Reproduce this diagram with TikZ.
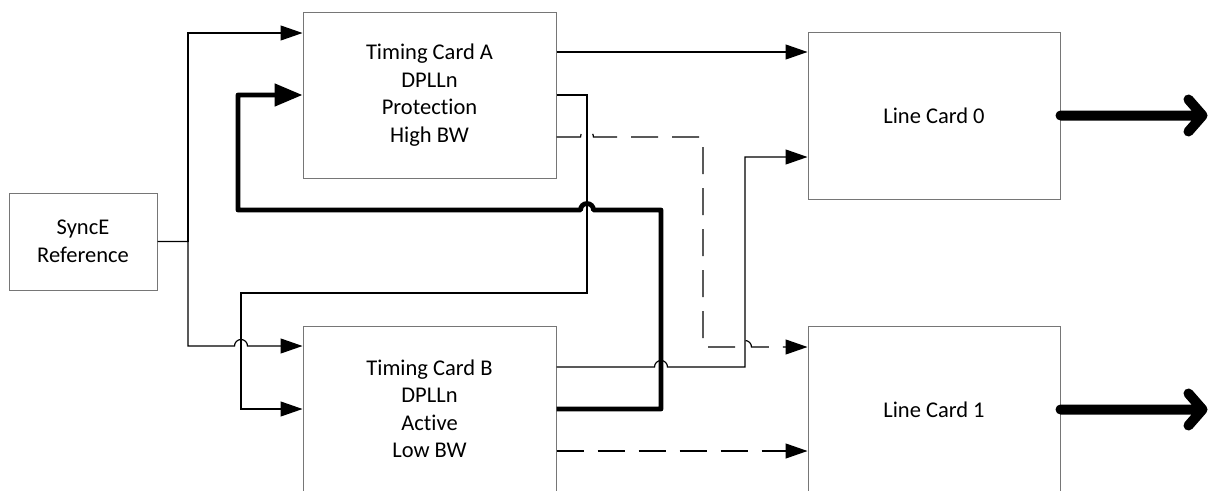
\documentclass[tikz,border=0pt]{standalone}
\usepackage{fontspec}
\setmainfont{Carlito}[Ligatures=NoCommon]
\usetikzlibrary{arrows.meta}
\definecolor{boxgray}{RGB}{118,118,118}
\begin{document}
\begin{tikzpicture}[x=1pt,y=-1pt,
  box/.style={draw=boxgray, line width=1pt, fill=white, rectangle, inner sep=0pt, align=center,
    font=\fontsize{22.5}{27.5}\selectfont},
  conn/.style={line width=1.2pt, draw=black},
  tip/.style={-{Triangle[length=22pt,width=15pt]}},
  thk/.style={line width=4.8pt, draw=black, line join=round, -{Triangle[length=28pt,width=22pt]}},
  dsh/.style={dash pattern=on 27pt off 14pt},
  outarrow/.style={line width=10pt, draw=black, line cap=round, line join=round}]
\useasboundingbox (0,0) rectangle (1209,490);

\node[box, minimum width=148pt, minimum height=97pt] (sync) at (83,241.5) {SyncE\\Reference};
\node[box, minimum width=253pt, minimum height=166pt] (tca) at (429.5,95) {Timing Card A\\DPLLn\\Protection\\High BW};
\node[box, minimum width=253pt, minimum height=166pt] (tcb) at (429.5,409) {Timing Card B\\DPLLn\\Active\\Low BW};
\node[box, minimum width=252pt, minimum height=167pt] (lc0) at (934,115.5) {Line Card 0};
\node[box, minimum width=252pt, minimum height=167pt] (lc1) at (934,409.5) {Line Card 1};

% SyncE reference to both timing cards
\draw[conn,tip] (sync.east) -| (188,33) -- (tca.west |- 0,33);
\draw[conn,tip] (sync.east) -| (188,346) -- (234.5,346) arc[start angle=180,end angle=360,radius=6.5] -- (tcb.west |- 0,346);

% Timing Card A to Line Card 0
\draw[conn,tip] (tca.east |- 0,52) -- (lc0.west |- 0,52);
% Timing Card A to Timing Card B
\draw[conn,tip] (tca.east |- 0,95) -| (587,293) -| (241,409) -- (tcb.west |- 0,409);
% Timing Card B (active) to Timing Card A (thick)
\draw[thk] (tcb.east |- 0,409) -| (661,210) -- (593.5,210) arc[start angle=0,end angle=-180,radius=6.5] -- (238,210) |- (tca.west |- 0,95);
% Timing Card A dashed to Line Card 1
\draw[conn,tip,dsh] (tca.east |- 0,137) -- (580.5,137) arc[start angle=180,end angle=360,radius=6.5] -- (703,137) -- (703,347) -- (738.5,347) arc[start angle=180,end angle=360,radius=6.5] -- (lc1.west |- 0,347);
% Timing Card B to Line Card 0
\draw[conn,tip] (tcb.east |- 0,367) -- (654.5,367) arc[start angle=180,end angle=360,radius=6.5] -- (745,367) -- (745,157) -- (lc0.west |- 0,157);
% Timing Card B dashed to Line Card 1
\draw[conn,tip,dsh] (tcb.east |- 0,451) -- (lc1.west |- 0,451);

% Outputs
\draw[outarrow] (lc0.east) -- ++(142,0) coordinate (t0) ++(-14,-16) -- (t0) -- ++(-14,16);
\draw[outarrow] (lc1.east) -- ++(142,0) coordinate (t1) ++(-14,-16) -- (t1) -- ++(-14,16);
\end{tikzpicture}
\end{document}
